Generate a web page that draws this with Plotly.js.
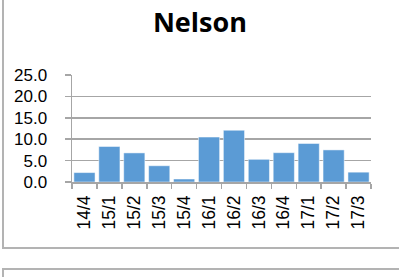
<!DOCTYPE html>
<html>
<head>
<meta charset="utf-8">
<script src="https://cdn.plot.ly/plotly-3.0.1.min.js"></script>
<style>
  html, body { margin:0; padding:0; background:#fff; }
  #wrap { position:relative; width:399px; height:277px; overflow:hidden; }
  .box { position:absolute; border:2px solid #b3b3b3; box-sizing:border-box; }
  #chart { position:absolute; left:0; top:0; width:399px; height:277px; }
</style>
</head>
<body>
<div id="wrap">
  <div class="box" style="left:2px; top:-3px; width:420px; height:252px;"></div>
  <div class="box" style="left:2px; top:268px; width:420px; height:40px;"></div>
  <div id="chart"></div>
</div>
<script>
const categories = ["14/4","15/1","15/2","15/3","15/4","16/1","16/2","16/3","16/4","17/1","17/2","17/3"];
const values = [2.2, 8.3, 6.8, 3.8, 0.7, 10.5, 12.1, 5.3, 6.85, 9.0, 7.5, 2.3];
const chartTitle = "Nelson";
const yTickVals = [0, 5, 10, 15, 20, 25];

const trace = {
  type: 'bar',
  x: categories,
  y: values,
  marker: { color: '#5B9BD5', line: { color: '#ffffff', width: 0.5 } },
  hoverinfo: 'none'
};

const layout = {
  width: 399, height: 277,
  margin: { l: 72, r: 28, t: 75, b: 95, pad: 0 },
  paper_bgcolor: 'rgba(0,0,0,0)',
  plot_bgcolor: 'rgba(0,0,0,0)',
  bargap: 0.15,
  showlegend: false,
  title: {
    text: '<b>' + chartTitle + '</b>',
    font: { family: 'Open Sans', size: 27, color: '#000' },
    xref: 'container', x: 0.501, xanchor: 'center',
    yref: 'container', y: 0.917, yanchor: 'middle'
  },
  xaxis: {
    type: 'category',
    showline: true, linecolor: '#a6a6a6', linewidth: 1.5,
    ticks: 'outside', tickson: 'boundaries', ticklen: 5, tickcolor: '#a6a6a6', tickwidth: 1.5,
    tickangle: -90,
    ticklabelstandoff: 5,
    tickfont: { family: 'Liberation Sans', size: 17.5, color: '#000' },
    showgrid: false, fixedrange: true
  },
  yaxis: {
    range: [0, 25],
    tickvals: yTickVals,
    tickformat: '.1f',
    showline: true, linecolor: '#a6a6a6', linewidth: 1.5,
    ticks: 'outside', ticklen: 6, tickcolor: '#a6a6a6', tickwidth: 1.5,
    showgrid: true, gridcolor: '#a6a6a6', gridwidth: 1.5,
    zeroline: false,
    ticklabelstandoff: 14,
    tickfont: { family: 'Liberation Sans', size: 17, color: '#000' },
    fixedrange: true
  }
};

Plotly.newPlot('chart', [trace], layout, { staticPlot: true, displayModeBar: false });
</script>
</body>
</html>
